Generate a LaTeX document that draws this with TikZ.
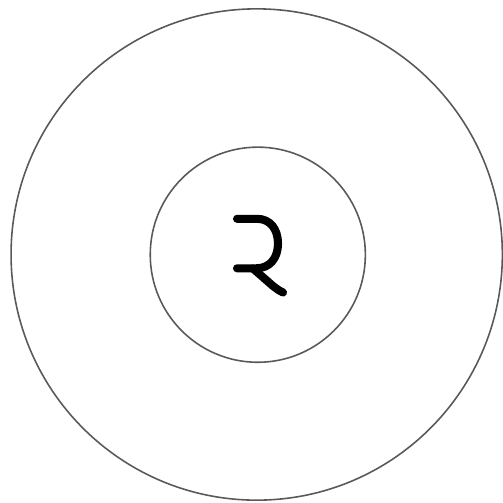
\documentclass[tikz,border=0pt]{standalone}
\usepackage{xcolor}
\usepackage{tikz}
\usetikzlibrary{positioning}

\begin{document}
\begin{tikzpicture}[x=0.01cm, y=-0.01cm]
\tikzset{
  ring/.style={circle, draw=black!65, line width=0.45pt, inner sep=0pt},
  glyph/.style={line width=2.3pt, line cap=round, line join=round}
}
\useasboundingbox (0,0) rectangle (503,502);

% Rings
\node[ring, minimum size=4.91cm] (outer) at (256.7,254.5) {};
\node[ring, minimum size=2.15cm] (inner) at (257.8,254.7) {};

% Symbol
\draw[glyph] (237,218.8) -- (257,218.8)
    .. controls (270,218.8) and (278,229) .. (278,243.5)
    .. controls (278,258) and (270,268.3) .. (256,268.3) -- (237,268.3);
\draw[glyph] (253,268.5) -- (273,286) .. controls (276,288.5) and (279,290.5) .. (283,292.5);
\end{tikzpicture}
\end{document}
